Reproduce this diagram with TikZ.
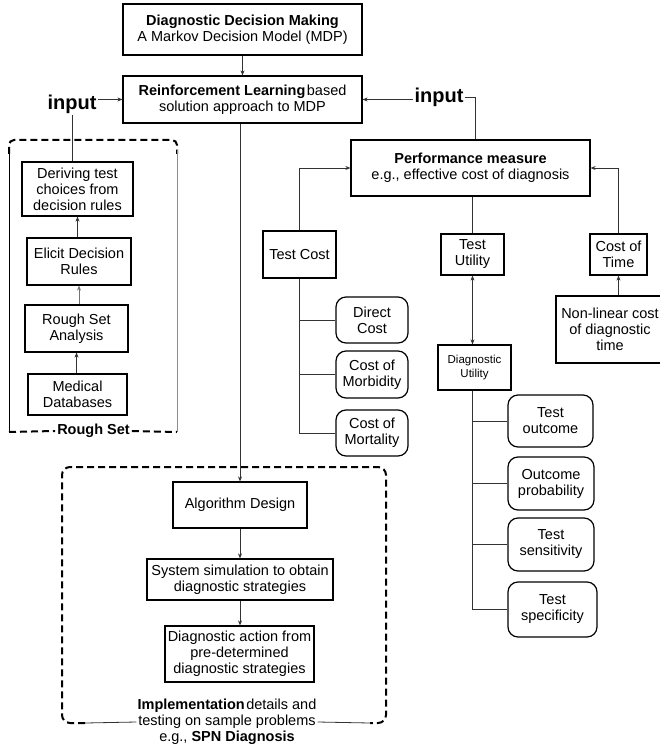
\documentclass[tikz,border=0pt]{standalone}
\usepackage{fontspec}
\setmainfont{Liberation Sans}
\usetikzlibrary{arrows.meta}
\begin{document}
\begin{tikzpicture}[x=1pt,y=-1pt,
  every node/.style={font=\fontsize{14.5}{16}\selectfont},
  box/.style={draw, line width=1.2pt, align=center, inner sep=0pt},
  rbox/.style={box, rounded corners=10pt},
  conn/.style={line width=0.8pt, black!80},
  arr/.style={conn, -{Stealth[length=5pt,width=4pt]}},
  thickdash/.style={line width=2pt, dash pattern=on 7pt off 4pt},
  biglab/.style={font=\fontsize{20}{22}\selectfont\bfseries, inner sep=1pt},
]
\useasboundingbox[fill=white] (0,0) rectangle (660,751);

% top part
\node[box, minimum width=239, minimum height=51] (dm) at (242.5,29.5) {\textbf{Diagnostic Decision Making}\\A Markov Decision Model (MDP)};
\node[box, minimum width=239, minimum height=47] (rl) at (242.5,99.5) {\textbf{Reinforcement Learning}\hspace{1.5pt}based\\solution approach to MDP};
\node[biglab] (inL) at (72,104) {input};
\node[biglab] (inR) at (439,97) {input};
\node[box, minimum width=239, minimum height=56] (perf) at (470.5,168) {\textbf{Performance measure}\\e.g., effective cost of diagnosis};

% rough set
\node[box, minimum width=111, minimum height=54] (deriv) at (77.5,189) {Deriving test\\choices from\\decision rules};
\node[box, minimum width=104, minimum height=47] (elicit) at (79,261.5) {Elicit Decision\\Rules};
\node[box, minimum width=103, minimum height=47] (rsa) at (76.5,328.5) {Rough Set\\Analysis};
\node[box, minimum width=99, minimum height=41] (med) at (77.5,394.5) {Medical\\Databases};
\node[font=\fontsize{14.5}{16}\selectfont\bfseries, inner sep=2pt] (rslab) at (93.5,431) {Rough Set};

% performance subtree
\node[box, minimum width=73, minimum height=47] (tcost) at (299.5,254.5) {Test Cost};
\node[box, minimum width=63, minimum height=41] (tutil) at (472.5,254.5) {Test\\Utility};
\node[box, minimum width=57, minimum height=41] (ctime) at (618.5,254.5) {Cost of\\Time};
\node[box, minimum width=108, minimum height=67] (nonlin) at (610,329.5) {Non-linear cost\\of diagnostic\\time};
\node[box, minimum width=73, minimum height=45, font=\fontsize{11.5}{13.5}\selectfont] (dutil) at (474.5,367.5) {Diagnostic\\Utility};
\node[rbox, minimum width=72, minimum height=46] (direct) at (372,320) {Direct\\Cost};
\node[rbox, minimum width=72, minimum height=47] (morb) at (372,374.5) {Cost of\\Morbidity};
\node[rbox, minimum width=72, minimum height=46] (mort) at (372,433) {Cost of\\Mortality};
\node[rbox, minimum width=85, minimum height=52] (tout) at (550.5,421) {Test\\outcome};
\node[rbox, minimum width=86, minimum height=53] (oprob) at (551,483.5) {Outcome\\probability};
\node[rbox, minimum width=86, minimum height=53] (tsens) at (551,544.5) {Test\\sensitivity};
\node[rbox, minimum width=89, minimum height=55] (tspec) at (552.5,609.5) {Test\\specificity};

% implementation
\node[box, minimum width=134, minimum height=46] (alg) at (240,505) {Algorithm Design};
\node[box, minimum width=186, minimum height=41] (sim) at (240,579.5) {System simulation to obtain\\diagnostic strategies};
\node[box, minimum width=149, minimum height=56] (act) at (239.5,654) {Diagnostic action from\\pre-determined\\diagnostic strategies};
\node[align=center, inner sep=1pt] (impl) at (227,722) {\textbf{Implementation}\hspace{1.5pt}details and\\testing on sample problems\\e.g., \textbf{SPN Diagnosis}};

% rough set container
\draw[thickdash, rounded corners=5pt] (9,154) -- (9,140) -- (177,140) -- (177,154);
\draw[line width=0.9pt] (9,150) -- (9,432);
\draw[line width=0.9pt, black!45] (177,150) -- (177,432);
\draw[thickdash] (9,432) -- (rslab.west);
\draw[thickdash] (rslab.east) -- (177,432);

% implementation container
\coordinate (iL) at (85,723);
\coordinate (iR) at (370,723);
\draw[thickdash, rounded corners=8pt] (iL) -| (62,467) -| (386,723) -- (iR);
\draw[conn] (iL) -- (impl.west);
\draw[conn] (impl.east) -- (iR);

% connectors
\draw[arr] (dm.south) -- (rl.north);
\draw[arr] (inL.east |- rl.west) -- (rl.west);
\draw[conn] (inL.south) -- (inL.south |- deriv.north);
\draw[arr] (inR.west |- rl.east) -- (rl.east);
\draw[conn] (inR.east) -| ([xshift=4.5pt]perf.north);
\draw[arr] (rl.south -| alg.north) -- (alg.north);
\draw[arr] (alg.south) -- (sim.north);
\draw[arr] (sim.south) -- (sim.south |- act.north);
\draw[arr] (rsa.south |- med.north) -- (rsa.south);
\draw[arr, black!55] (elicit.south |- rsa.north) -- (elicit.south);
\draw[arr] (deriv.south |- elicit.north) -- (deriv.south);

\draw[arr] (tcost.north) |- (perf.west);
\draw[conn] (tutil.north |- perf.south) -- (tutil.north);
\draw[arr] (ctime.north) |- (perf.east);
\draw[arr] (ctime.south |- nonlin.north) -- (ctime.south);
\draw[conn, {Stealth[length=5pt,width=4pt]}-{Stealth[length=5pt,width=4pt]}] (tutil.south) -- (tutil.south |- dutil.north);

\draw[conn] (tcost.south) |- (mort.west);
\draw[conn] (tcost.south |- direct.west) -- (direct.west);
\draw[conn] (tcost.south |- morb.west) -- (morb.west);

\coordinate (dts) at ([xshift=-2.5pt]dutil.south);
\draw[conn] (dts) |- (tspec.west);
\draw[conn] (dts |- tout.west) -- (tout.west);
\draw[conn] (dts |- oprob.west) -- (oprob.west);
\draw[conn] (dts |- tsens.west) -- (tsens.west);
\end{tikzpicture}
\end{document}
